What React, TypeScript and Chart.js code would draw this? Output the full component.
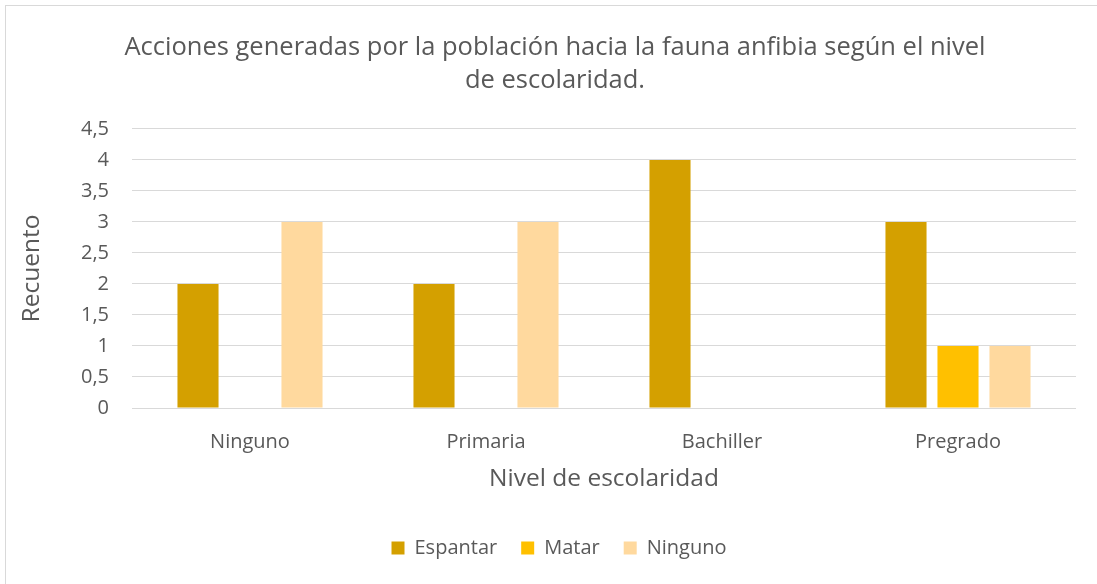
import React, { useEffect, useRef } from "react";
import { Chart, registerables } from "chart.js";

Chart.register(...registerables);

const categories = ["Ninguno", "Primaria", "Bachiller", "Pregrado"];
const espantar = [2, 2, 4, 3];
const matar = [0, 0, 0, 1];
const ninguno = [3, 3, 0, 1];
const titleLines = [
  "Acciones generadas por la población hacia la fauna anfibia según el nivel",
  "de escolaridad.",
];

const FONT = "'Open Sans', sans-serif";
const TEXT = "#595959";
const GRID = "#d9d9d9";

const legendShift = {
  id: "legendShift",
  afterLayout(chart: any) {
    if (chart.legend) {
      chart.legend.left += 4;
      chart.legend.right += 4;
    }
  },
};

export default function App() {
  const ref = useRef<HTMLCanvasElement>(null);
  useEffect(() => {
    const chart = new Chart(ref.current!, {
      type: "bar",
      data: {
        labels: categories,
        datasets: [
          { label: "Espantar", data: espantar, backgroundColor: "#D4A000" },
          { label: "Matar", data: matar, backgroundColor: "#FFC000" },
          { label: "Ninguno", data: ninguno, backgroundColor: "#FFD99E" },
        ],
      },
      plugins: [legendShift],
      options: {
        animation: false,
        responsive: true,
        maintainAspectRatio: false,
        layout: { padding: { left: 0, right: 0, top: 0, bottom: 26 } },
        datasets: { bar: { categoryPercentage: 0.661, barPercentage: 0.79 } },
        plugins: {
          title: {
            display: true,
            text: titleLines,
            color: TEXT,
            font: { family: FONT, size: 25.5, weight: "normal", lineHeight: 1.294 },
            padding: { top: 25, bottom: 32 },
          },
          legend: {
            position: "bottom",
            labels: {
              color: TEXT,
              font: { family: FONT, size: 20 },
              boxWidth: 13,
              boxHeight: 13,
              padding: 24,
            },
          },
          tooltip: { enabled: false },
        },
        scales: {
          x: {
            grid: { display: false, drawTicks: false },
            border: { display: false },
            ticks: { color: TEXT, font: { family: FONT, size: 20 }, padding: 22 },
            title: {
              display: true,
              text: "Nivel de escolaridad",
              color: TEXT,
              font: { family: FONT, size: 24.5 },
              padding: { top: 0, bottom: 20.3 },
            },
            afterFit: (s: any) => {
              s.height = 106;
            },
          },
          y: {
            min: 0,
            max: 4.5,
            ticks: {
              stepSize: 0.5,
              color: TEXT,
              font: { family: FONT, size: 20 },
              padding: 23,
              callback: (v: any) => String(v).replace(".", ","),
            },
            grid: { color: GRID, lineWidth: 1, drawTicks: false },
            border: { display: false },
            title: {
              display: true,
              text: "Recuento",
              color: TEXT,
              font: { family: FONT, size: 24.5 },
              padding: { top: 11, bottom: 0 },
            },
            afterFit: (s: any) => {
              s.width = 126;
            },
          },
          yRight: {
            position: "right",
            display: true,
            grid: { display: false, drawTicks: false },
            border: { display: false },
            ticks: { display: false },
            afterFit: (s: any) => {
              s.width = 28;
            },
          },
        },
      },
    });
    return () => chart.destroy();
  }, []);

  return (
    <div
      style={{
        position: "fixed",
        left: 5,
        top: 5,
        width: 1100,
        height: 590,
        border: "1px solid #d9d9d9",
        background: "#fff",
      }}
    >
      <div style={{ position: "relative", width: 1098, height: 588 }}>
        <canvas ref={ref} />
      </div>
    </div>
  );
}
